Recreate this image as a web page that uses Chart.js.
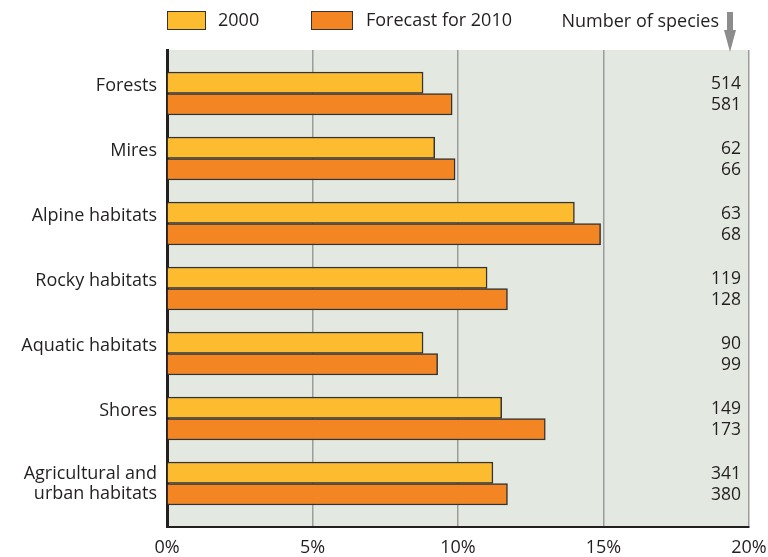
<!DOCTYPE html>
<html>
<head>
<meta charset="utf-8">
<script src="https://cdn.jsdelivr.net/npm/chart.js@4"></script>
<style>
  html, body { margin: 0; padding: 0; background: #fff; }
  #chart { display: block; }
</style>
</head>
<body>
<canvas id="chart" width="768" height="557"></canvas>
<script>
const habitats = ['Forests', 'Mires', 'Alpine habitats', 'Rocky habitats', 'Aquatic habitats', 'Shores', ['Agricultural and', 'urban habitats']];
const share2000 = [8.8, 9.2, 14.0, 11.0, 8.8, 11.5, 11.2];
const share2010 = [9.8, 9.9, 14.9, 11.7, 9.3, 13.0, 11.7];
const species2000 = [514, 62, 63, 119, 90, 149, 341];
const species2010 = [581, 66, 68, 128, 99, 173, 380];
const seriesNames = ['2000', 'Forecast for 2010'];
const seriesColors = ['#fdbb2f', '#f38622'];
const xTicks = [0, 5, 10, 15, 20];

const fontFamily = '"Open Sans", "Noto Sans", sans-serif';
const fontSize = 18;
const textColor = '#231f20';
// single-line category labels sit a little above the middle of their bar pair
const labelLift = 0.12;

const decorations = {
  id: 'decorations',
  beforeDraw(chart) {
    const { ctx, chartArea } = chart;
    ctx.save();
    ctx.fillStyle = '#e3e8e0';
    ctx.fillRect(chartArea.left, chartArea.top, chartArea.right - chartArea.left, chartArea.bottom - chartArea.top);
    ctx.restore();
  },
  afterDraw(chart) {
    const { ctx, chartArea } = chart;
    ctx.save();
    ctx.font = '17.5px ' + fontFamily;
    ctx.fillStyle = textColor;
    ctx.textBaseline = 'middle';

    // species counts beside each bar
    ctx.textAlign = 'right';
    [species2000, species2010].forEach((counts, d) => {
      chart.getDatasetMeta(d).data.forEach((bar, i) => {
        ctx.fillText(String(counts[i]), chartArea.right - 8, bar.y + 1);
      });
    });

    // legend
    ctx.font = fontSize + 'px ' + fontFamily;
    ctx.textAlign = 'left';
    ctx.lineWidth = 1;
    ctx.strokeStyle = '#333';
    ctx.fillStyle = seriesColors[0];
    ctx.fillRect(167, 11, 39, 19);
    ctx.strokeRect(167.5, 11.5, 38, 18);
    ctx.fillStyle = seriesColors[1];
    ctx.fillRect(311, 11, 42, 19);
    ctx.strokeRect(311.5, 11.5, 41, 18);
    ctx.fillStyle = textColor;
    ctx.fillText(seriesNames[0], 218, 21);
    ctx.fillText(seriesNames[1], 366, 21);

    // column header with arrow
    ctx.textAlign = 'right';
    ctx.fillText('Number of species', 719, 22);
    ctx.fillStyle = '#8c8c8c';
    ctx.fillRect(727, 12, 6, 19);
    ctx.beginPath();
    ctx.moveTo(724, 30);
    ctx.lineTo(736, 30);
    ctx.lineTo(730, 52);
    ctx.closePath();
    ctx.fill();
    ctx.restore();
  }
};

new Chart(document.getElementById('chart'), {
  type: 'bar',
  data: {
    datasets: [
      {
        label: seriesNames[0],
        data: share2000.map((v, i) => ({ x: v, y: i })),
        backgroundColor: seriesColors[0],
        borderColor: '#333',
        borderWidth: 1.5,
        barThickness: 21.5
      },
      {
        label: seriesNames[1],
        data: share2010.map((v, i) => ({ x: v, y: i })),
        backgroundColor: seriesColors[1],
        borderColor: '#333',
        borderWidth: 1.5,
        barThickness: 21.5
      }
    ]
  },
  options: {
    indexAxis: 'y',
    responsive: false,
    animation: false,
    layout: { padding: { top: 50, right: 19, left: 0, bottom: 0 } },
    plugins: { legend: { display: false }, tooltip: { enabled: false } },
    scales: {
      x: {
        type: 'linear',
        min: 0,
        max: 20,
        afterBuildTicks: (scale) => { scale.ticks = xTicks.map((v) => ({ value: v })); },
        afterFit: (scale) => {
          scale.height = 30;
          scale.paddingLeft = 0;
          scale.paddingRight = 0;
        },
        ticks: {
          callback: (v) => v + '%',
          padding: 10,
          color: textColor,
          font: { family: fontFamily, size: 18 }
        },
        grid: { color: '#9c9c9c', lineWidth: 1.5, drawTicks: false },
        border: { color: '#231f20', width: 2 }
      },
      y: {
        type: 'linear',
        reverse: true,
        offset: false,
        min: -0.67,
        max: 6.67,
        afterBuildTicks: (scale) => {
          scale.ticks = habitats.map((h, i) => ({ value: Array.isArray(h) ? i : i - labelLift }));
        },
        afterFit: (scale) => {
          scale.width = 167;
          scale.paddingTop = 0;
          scale.paddingBottom = 0;
        },
        ticks: {
          callback: (v, idx) => habitats[idx],
          padding: 10,
          color: textColor,
          font: { family: fontFamily, size: fontSize, lineHeight: 1.12 }
        },
        grid: { display: false, drawTicks: false, offset: false },
        border: { color: '#231f20', width: 3 }
      }
    }
  },
  plugins: [decorations]
});
</script>
</body>
</html>
